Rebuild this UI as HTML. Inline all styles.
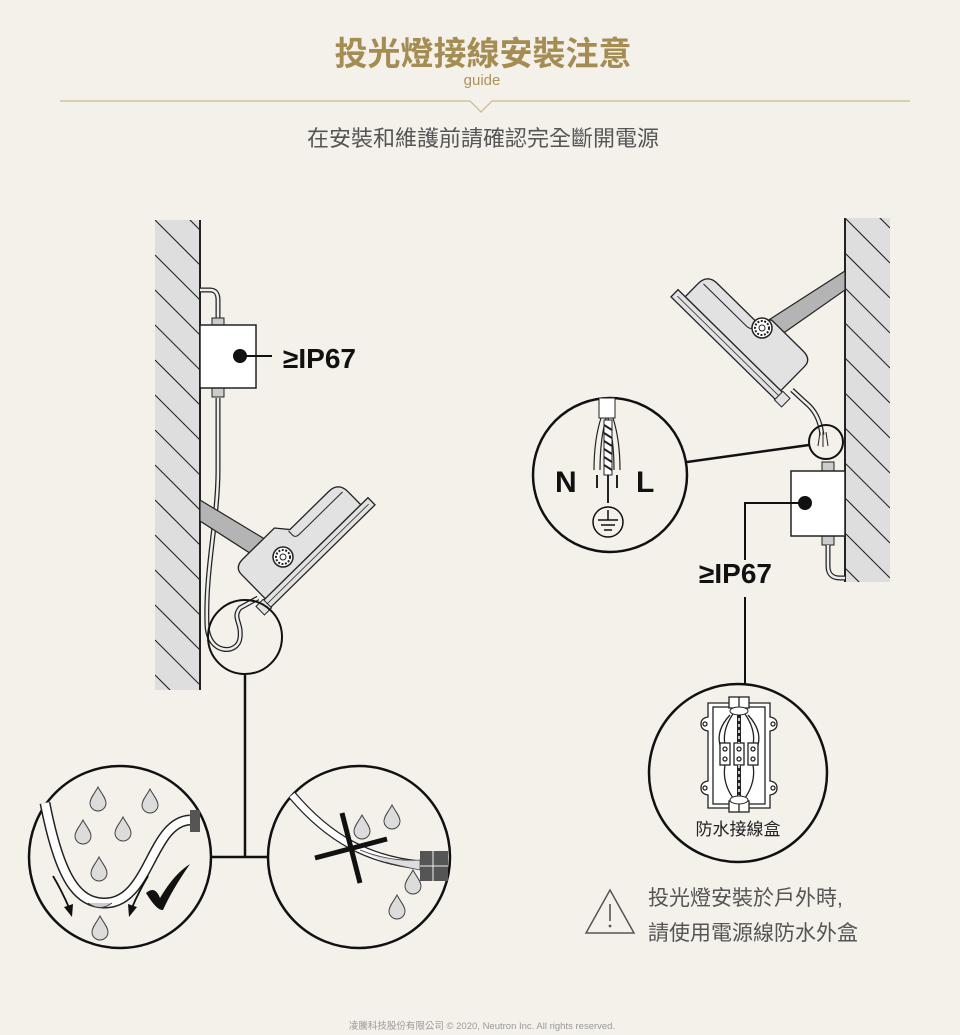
<!DOCTYPE html>
<html><head><meta charset="utf-8"><style>
html,body{margin:0;padding:0;background:#f4f1ea;}
svg{display:block}
text{font-family:"Liberation Sans","Noto Sans CJK TC",sans-serif}
</style></head><body>
<svg width="960" height="1035" viewBox="0 0 960 1035" xmlns="http://www.w3.org/2000/svg">
<defs>
<clipPath id="wl"><rect x="155" y="220" width="45" height="470"/></clipPath>
<clipPath id="wr"><rect x="845" y="218" width="45" height="364"/></clipPath>
<path id="drop" d="M0,-12 C3,-6 8,-1 8,4 A8,8 0 0 1 -8,4 C-8,-1 -3,-6 0,-12Z" fill="#dcdcdc" stroke="#444" stroke-width="1"/>
<g id="lamp">
  <path d="M6,-10 L6,-44 Q6,-54 18,-54 L62,-54 L72,-42 L126,-42 Q140,-42 140,-28 L140,-10 Z" fill="#e2e2e2" stroke="#222" stroke-width="1.3"/>
  <path d="M70,-42 L70,-36 Q70,-32 76,-32 L136,-32" fill="none" stroke="#222" stroke-width="1"/>
  <rect x="0" y="-10" width="150" height="10" fill="#e2e2e2" stroke="#222" stroke-width="1.3"/>
  <line x1="4" y1="-5" x2="146" y2="-5" stroke="#222" stroke-width="0.8"/>
  <rect x="-6" y="-11" width="10" height="12" fill="#e2e2e2" stroke="#222" stroke-width="1"/>
</g>
<g id="hinge">
  <circle r="10" fill="#fff" stroke="#222" stroke-width="1.5"/>
  <circle r="7" fill="none" stroke="#222" stroke-width="2" stroke-dasharray="2 1.5"/>
  <circle r="3" fill="#fff" stroke="#222" stroke-width="1"/>
</g>
</defs>

<!-- header -->
<text x="483" y="65" text-anchor="middle" font-size="33" font-weight="bold" fill="#a48c52" font-family="'Noto Sans CJK TC',sans-serif">投光燈接線安裝注意</text>
<text x="482" y="85" text-anchor="middle" font-size="15" fill="#ab935a">guide</text>
<polyline points="60,101 470,101 481,112 492,101 910,101" fill="none" stroke="#c9b98f" stroke-width="1.2"/>
<text x="483" y="146" text-anchor="middle" font-size="22" fill="#555" font-family="'Noto Sans CJK TC',sans-serif">在安裝和維護前請確認完全斷開電源</text>

<!-- LEFT WALL -->
<rect x="155" y="220" width="45" height="470" fill="#dedede"/>
<g clip-path="url(#wl)" stroke="#222" stroke-width="1.1">
<line x1="155" y1="185" x2="200" y2="230"/><line x1="155" y1="220" x2="200" y2="265"/><line x1="155" y1="255" x2="200" y2="300"/><line x1="155" y1="290" x2="200" y2="335"/><line x1="155" y1="325" x2="200" y2="370"/><line x1="155" y1="360" x2="200" y2="405"/><line x1="155" y1="395" x2="200" y2="440"/><line x1="155" y1="430" x2="200" y2="475"/><line x1="155" y1="465" x2="200" y2="510"/><line x1="155" y1="500" x2="200" y2="545"/><line x1="155" y1="535" x2="200" y2="580"/><line x1="155" y1="570" x2="200" y2="615"/><line x1="155" y1="605" x2="200" y2="650"/><line x1="155" y1="640" x2="200" y2="685"/><line x1="155" y1="675" x2="200" y2="720"/>
</g>
<line x1="200" y1="220" x2="200" y2="690" stroke="#222" stroke-width="2"/>

<!-- left cable -->
<path d="M200,290 L210,290 Q218,290 218,300 L218,318" fill="none" stroke="#222" stroke-width="5"/>
<path d="M200,290 L210,290 Q218,290 218,300 L218,318" fill="none" stroke="#eee" stroke-width="2.5"/>
<path d="M218,398 L218,470 C218,520 205,570 207,625 C208,655 238,655 240,638 C242,622 232,618 240,608 L258,598" fill="none" stroke="#222" stroke-width="5"/>
<path d="M218,398 L218,470 C218,520 205,570 207,625 C208,655 238,655 240,638 C242,622 232,618 240,608 L258,598" fill="none" stroke="#eee" stroke-width="2.5"/>
<rect x="212" y="318" width="12" height="8" fill="#ccc" stroke="#222"/>
<rect x="212" y="388" width="12" height="9" fill="#ccc" stroke="#222"/>
<rect x="200" y="325" width="56" height="63" fill="#fff" stroke="#222" stroke-width="1.5"/>
<circle cx="240" cy="356" r="7" fill="#111"/>
<line x1="240" y1="356" x2="272" y2="356" stroke="#111" stroke-width="2"/>
<text x="283" y="368" font-size="28" font-weight="bold" fill="#111">≥IP67</text>

<!-- left arm + lamp -->
<polygon points="200,500 278,547 270,566 200,521" fill="#b4b4b4" stroke="#222" stroke-width="1.2"/>
<use href="#lamp" transform="translate(268,610) rotate(-44.5)"/>
<use href="#hinge" transform="translate(283,557)"/>
<circle cx="245" cy="637" r="37" fill="none" stroke="#111" stroke-width="2"/>
<line x1="245" y1="674" x2="245" y2="857" stroke="#111" stroke-width="2.5"/>
<line x1="211" y1="857" x2="268" y2="857" stroke="#111" stroke-width="2.5"/>

<!-- bottom left circle -->
<circle cx="120" cy="857" r="91" fill="#f4f1ea" stroke="#111" stroke-width="2.5"/>
<path d="M45,803 C60,880 78,902 103,903 C150,905 150,822 190,820" fill="none" stroke="#222" stroke-width="11"/>
<path d="M45,803 C60,880 78,902 103,903 C150,905 150,822 190,820" fill="none" stroke="#fff" stroke-width="8"/>
<path d="M88,903 Q100,912 112,903" fill="#ccc" stroke="#444"/>
<rect x="190" y="810" width="10" height="22" fill="#555"/>
<use href="#drop" transform="translate(98,799)"/><use href="#drop" transform="translate(150,801)"/>
<use href="#drop" transform="translate(83,832)"/><use href="#drop" transform="translate(123,829)"/>
<use href="#drop" transform="translate(99,869)"/><use href="#drop" transform="translate(100,928)"/>
<path d="M53,876 Q63,893 70,910" fill="none" stroke="#111" stroke-width="1.8"/><polygon points="64,907 72,917 73,904" fill="#111"/>
<path d="M148,876 Q138,893 131,910" fill="none" stroke="#111" stroke-width="1.8"/><polygon points="128,904 129,917 137,907" fill="#111"/>
<path d="M146,893 Q155,885 160,898 Q174,874 190,864 Q172,890 163,910 Q157,911 146,893Z" fill="#111"/>

<!-- bottom right circle -->
<circle cx="359" cy="857" r="91" fill="#f4f1ea" stroke="#111" stroke-width="2.5"/>
<path d="M292,795 C330,840 370,860 420,865" fill="none" stroke="#222" stroke-width="9"/>
<path d="M292,795 C330,840 370,860 420,865" fill="none" stroke="#fff" stroke-width="6.5"/>
<path d="M360,850 Q390,862 420,860 L420,870 Q400,866 385,862" fill="#ddd" stroke="#444" stroke-width="0.8"/>
<rect x="420" y="851" width="28" height="30" fill="#555"/><line x1="420" y1="866" x2="448" y2="866" stroke="#eee"/><line x1="433" y1="851" x2="433" y2="881" stroke="#eee"/>
<use href="#drop" transform="translate(362,827)"/><use href="#drop" transform="translate(392,817)"/>
<use href="#drop" transform="translate(413,882)"/><use href="#drop" transform="translate(397,907)"/>
<line x1="342" y1="813" x2="360" y2="883" stroke="#111" stroke-width="5"/>
<line x1="315" y1="858" x2="387" y2="839" stroke="#111" stroke-width="5"/>

<!-- RIGHT WALL -->
<rect x="845" y="218" width="45" height="364" fill="#dedede"/>
<g clip-path="url(#wr)" stroke="#222" stroke-width="1.1">
<line x1="845" y1="183" x2="890" y2="228"/><line x1="845" y1="218" x2="890" y2="263"/><line x1="845" y1="253" x2="890" y2="298"/><line x1="845" y1="288" x2="890" y2="333"/><line x1="845" y1="323" x2="890" y2="368"/><line x1="845" y1="358" x2="890" y2="403"/><line x1="845" y1="393" x2="890" y2="438"/><line x1="845" y1="428" x2="890" y2="473"/><line x1="845" y1="463" x2="890" y2="508"/><line x1="845" y1="498" x2="890" y2="543"/><line x1="845" y1="533" x2="890" y2="578"/><line x1="845" y1="568" x2="890" y2="613"/>
</g>
<line x1="845" y1="218" x2="845" y2="582" stroke="#222" stroke-width="2"/>

<polygon points="845,271 845,290 775,339 764,323" fill="#b4b4b4" stroke="#222" stroke-width="1.2"/>
<use href="#lamp" transform="translate(1046,-208) scale(-1,1) translate(268,610) rotate(-44.5)"/>
<use href="#hinge" transform="translate(762,328)"/>
<path d="M792,390 L805,402 C815,410 820,420 822,435" fill="none" stroke="#222" stroke-width="5"/>
<path d="M792,390 L805,402 C815,410 820,420 822,435" fill="none" stroke="#eee" stroke-width="2.5"/>
<path d="M820,432 L818,446 M823,432 L823,447 M826,432 L828,446" stroke="#222" stroke-width="1"/>
<circle cx="826" cy="442" r="17" fill="none" stroke="#111" stroke-width="2"/>
<line x1="687" y1="462" x2="809" y2="445" stroke="#111" stroke-width="2.5"/>
<rect x="822" y="462" width="12" height="9" fill="#ccc" stroke="#222"/>
<rect x="822" y="536" width="12" height="9" fill="#ccc" stroke="#222"/>
<path d="M828,545 L828,566 Q828,578 840,578 L845,578" fill="none" stroke="#222" stroke-width="5"/>
<path d="M828,545 L828,566 Q828,578 840,578 L845,578" fill="none" stroke="#eee" stroke-width="2.5"/>
<rect x="791" y="471" width="54" height="65" fill="#fff" stroke="#222" stroke-width="1.5"/>
<circle cx="805" cy="503" r="7" fill="#111"/>
<polyline points="805,503 745,503 745,560" fill="none" stroke="#111" stroke-width="2"/>
<text x="699" y="583" font-size="28" font-weight="bold" fill="#111">≥IP67</text>
<line x1="745" y1="597" x2="745" y2="685" stroke="#111" stroke-width="2"/>

<!-- N L circle -->
<circle cx="610" cy="475" r="77" fill="#f4f1ea" stroke="#111" stroke-width="2.5"/>
<rect x="599" y="398" width="16" height="20" fill="#fff" stroke="#222"/>
<path d="M601,418 Q594,440 594,470 M606,418 Q600,440 600,470" fill="none" stroke="#222" stroke-width="1.2"/>
<path d="M613,418 Q620,440 620,470 M608,418 Q614,440 614,470" fill="none" stroke="#222" stroke-width="1.2"/>
<rect x="604" y="420" width="8" height="55" fill="#fff" stroke="#222"/>
<path d="M604,425 L612,430 M604,433 L612,438 M604,441 L612,446 M604,449 L612,454 M604,457 L612,462 M604,465 L612,470" stroke="#222" stroke-width="2"/>
<line x1="597" y1="475" x2="597" y2="488" stroke="#222" stroke-width="2"/>
<line x1="617" y1="475" x2="617" y2="488" stroke="#222" stroke-width="2"/>
<line x1="608" y1="475" x2="608" y2="503" stroke="#222" stroke-width="2"/>
<text x="555" y="492" font-size="30" font-weight="bold" fill="#111">N</text>
<text x="636" y="492" font-size="30" font-weight="bold" fill="#111">L</text>
<circle cx="608" cy="522" r="15" fill="none" stroke="#111" stroke-width="1.5"/>
<path d="M608,510 L608,520 M598,520 L618,520 M601,525 L615,525 M604,530 L612,530" stroke="#111" stroke-width="1.5"/>

<!-- junction box circle -->
<circle cx="738" cy="773" r="89" fill="#f4f1ea" stroke="#111" stroke-width="2.5"/>
<g fill="none" stroke="#222" stroke-width="1.3">
<path d="M708,703 L770,703 L770,717 Q777,718 777,724 Q777,730 770,731 L770,781 Q777,782 777,788 Q777,794 770,795 L770,808 L708,808 L708,795 Q701,794 701,788 Q701,782 708,781 L708,731 Q701,730 701,724 Q701,718 708,717 Z" fill="#fff"/>
<rect x="713" y="707" width="52" height="97"/>
<rect x="729" y="697" width="20" height="11" fill="#fff"/><rect x="729" y="801" width="20" height="11" fill="#fff"/>
<line x1="739" y1="697" x2="739" y2="708"/><line x1="739" y1="801" x2="739" y2="812"/>
<circle cx="705" cy="724" r="2"/><circle cx="773" cy="724" r="2"/><circle cx="705" cy="788" r="2"/><circle cx="773" cy="788" r="2"/>
<path d="M733,714 Q722,730 725,745 M745,714 Q756,730 753,745 M733,798 Q722,782 725,765 M745,798 Q756,782 753,765"/>
<path d="M730,715 Q716,730 720,745 M748,715 Q762,730 758,745"/>
<rect x="720" y="743" width="10" height="22" fill="#fff"/><rect x="734" y="743" width="10" height="22" fill="#fff"/><rect x="748" y="743" width="10" height="22" fill="#fff"/>
<circle cx="725" cy="749" r="2"/><circle cx="739" cy="749" r="2"/><circle cx="753" cy="749" r="2"/>
<circle cx="725" cy="759" r="2"/><circle cx="739" cy="759" r="2"/><circle cx="753" cy="759" r="2"/>
</g>
<path d="M739,712 L739,743 M739,765 L739,800" stroke="#222" stroke-width="4"/>
<path d="M739,712 L739,743 M739,765 L739,800" stroke="#fff" stroke-width="1.5" stroke-dasharray="3 3"/>
<ellipse cx="739" cy="711" rx="9" ry="4" fill="#fff" stroke="#222"/><ellipse cx="739" cy="800" rx="9" ry="4" fill="#fff" stroke="#222"/>
<text x="738" y="835" text-anchor="middle" font-size="17" fill="#222" font-family="'Noto Sans CJK TC',sans-serif">防水接線盒</text>

<!-- warning -->
<polygon points="610,890 586,933 634,933" fill="none" stroke="#555" stroke-width="1.5"/>
<line x1="610" y1="904" x2="610" y2="921" stroke="#555" stroke-width="1.6"/>
<circle cx="610" cy="926" r="1.4" fill="#555"/>
<text x="648" y="905" font-size="21" fill="#555" font-family="'Noto Sans CJK TC',sans-serif">投光燈安裝於戶外時,</text>
<text x="648" y="940" font-size="21" fill="#555" font-family="'Noto Sans CJK TC',sans-serif">請使用電源線防水外盒</text>

<text x="482" y="1029" text-anchor="middle" font-size="9.5" fill="#999">凌騰科技股份有限公司 © 2020, Neutron Inc. All rights reserved.</text>
</svg>
</body></html>
